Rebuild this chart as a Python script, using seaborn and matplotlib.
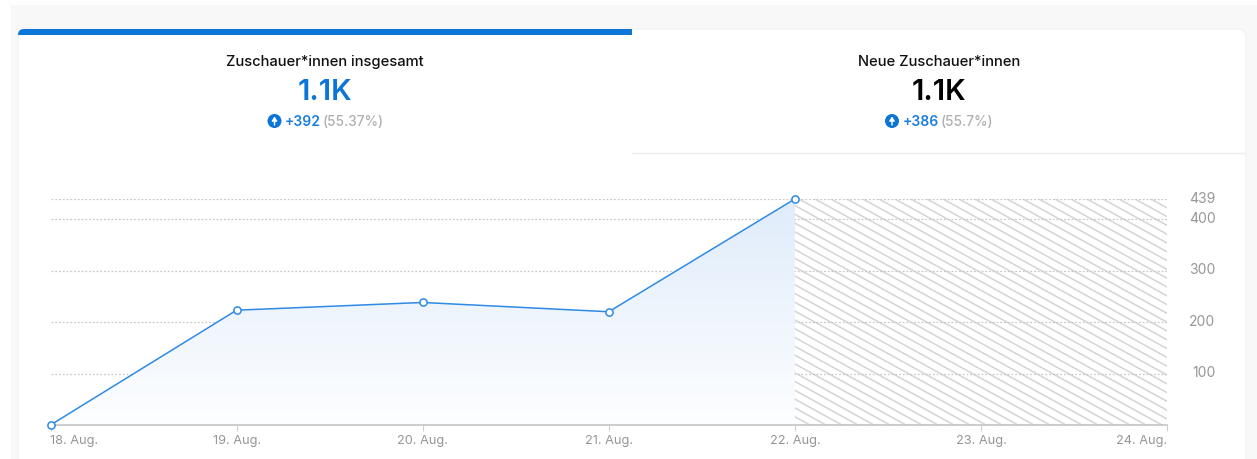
import numpy as np
import pandas as pd
import matplotlib
matplotlib.use("Agg")
import matplotlib.pyplot as plt
from matplotlib.patches import FancyBboxPatch, Rectangle, Circle, Polygon
from matplotlib.transforms import ScaledTranslation
import seaborn as sns

days = ["18. Aug.", "19. Aug.", "20. Aug.", "21. Aug.", "22. Aug.", "23. Aug.", "24. Aug."]
viewers = [0, 223, 238, 220, 439]
y_ticks = [100, 200, 300, 400, 439]
tab_titles = ["Zuschauer*innen insgesamt", "Neue Zuschauer*innen"]
tab_values = ["1.1K", "1.1K"]
tab_deltas = ["+392", "+386"]
tab_pcts = ["(55.37%)", "(55.7%)"]

sns.set_theme(style="white")
plt.rcParams["font.family"] = ["Inter", "DejaVu Sans"]

W, H = 1257, 459
BLUE = "#0b76d8"
LINE = "#2f8ae6"
GREY = "#969696"

fig = plt.figure(figsize=(W / 100, H / 100), dpi=100, facecolor="white")

# page furniture, in pixel coordinates
bg = fig.add_axes([0, 0, 1, 1], zorder=0)
bg.set_xlim(0, W)
bg.set_ylim(H, 0)
bg.axis("off")
bg.add_patch(Rectangle((11, 5), W - 11, H, fc="#f8f8f8", ec="none"))
bg.add_patch(FancyBboxPatch((18, 29), 1228, 460, boxstyle="round,pad=0,rounding_size=9",
                            fc="white", ec="#f1f1f1", lw=0.8))
bar = FancyBboxPatch((18, 29), 640, 30, boxstyle="round,pad=0,rounding_size=6", fc=BLUE, ec="none")
bg.add_patch(bar)
bar.set_clip_path(Rectangle((18, 29), 614, 5.5, transform=bg.transData))
bg.plot([632, 1245], [153, 153], color="#ececec", lw=1)

def tab(cx, title, value, vcolor, delta, pct, icon_x, delta_x, pct_x):
    bg.text(cx, 62.2, title, ha="center", va="center", fontsize=10.6, color="#111111", fontweight="medium")
    bg.text(cx, 92, value, ha="center", va="center", fontsize=21, color=vcolor, fontweight="semibold")
    bg.add_patch(Circle((icon_x, 121), 7, fc=BLUE, ec="none"))
    bg.annotate("", xy=(icon_x, 116.5), xytext=(icon_x, 125),
                arrowprops=dict(arrowstyle="-|>,head_width=0.13,head_length=0.2", color="white", lw=1,
                                shrinkA=0, shrinkB=0))
    bg.text(delta_x, 121.5, delta, ha="left", va="center", fontsize=10, color="#1a7fe0", fontweight="semibold")
    bg.text(pct_x, 121.5, pct, ha="left", va="center", fontsize=9.8, color="#b0b0b0", fontweight="medium")

tab(325, tab_titles[0], tab_values[0], BLUE, tab_deltas[0], tab_pcts[0], 274.5, 285, 323)
tab(939, tab_titles[1], tab_values[1], "#000000", tab_deltas[1], tab_pcts[1], 892, 903, 941)

# plot
ax = fig.add_axes([50.5 / W, (H - 425) / H, 1116.5 / W, 226 / H], zorder=1)
ax.patch.set_alpha(0)
x = np.arange(len(viewers))
df = pd.DataFrame({"day": x, "viewers": viewers})

ax.set_xlim(0, len(days) - 1)
ax.set_ylim(0, 439)

for t in y_ticks:
    ax.axhline(t, color="#c9c9c9", lw=0.9, ls=(0, (1.5, 1.5)), zorder=1)

grad = np.linspace(0, 1, 256).reshape(-1, 1)
cmap = matplotlib.colors.LinearSegmentedColormap.from_list("g", ["#dfecfa", "#fdfeff"])
im = ax.imshow(grad, extent=[0, x[-1], 0, max(viewers)], origin="upper", aspect="auto", cmap=cmap, zorder=1.5)
poly = Polygon(list(zip(x, viewers)) + [(x[-1], 0), (0, 0)], closed=True, transform=ax.transData, fc="none", ec="none")
ax.add_patch(poly)
im.set_clip_path(poly)
ax.set_xlim(0, len(days) - 1)
ax.set_ylim(0, 439)

# hatched "no data yet" zone
x0_px, x1_px = 794, 1167
for off in np.arange(199 - 0.55 * (x1_px - x0_px), 425, 8.8):
    ln, = bg.plot([x0_px, x1_px], [off, off + 0.55 * (x1_px - x0_px)], color="#d4d4d4", lw=1.1, zorder=2)
    ln.set_clip_path(Rectangle((x0_px, 199), x1_px - x0_px, 226, transform=bg.transData))

sns.lineplot(data=df, x="day", y="viewers", ax=ax, color=LINE, lw=1.1, marker="o", markersize=5.2,
             markerfacecolor="white", markeredgecolor=LINE, markeredgewidth=1.1, clip_on=False, zorder=3)

ax.set_xlabel("")
ax.set_ylabel("")
for s in ["top", "left", "right"]:
    ax.spines[s].set_visible(False)
ax.spines["bottom"].set_color("#c4c4c4")
ax.spines["bottom"].set_linewidth(1.2)

ax.set_xticks(range(len(days)))
ax.set_xticklabels(days)
ax.tick_params(axis="x", bottom=True, length=4, width=0.8, color="#d0d0d0", labelsize=9.2, labelcolor=GREY, pad=3)
labels = ax.get_xticklabels()
labels[0].set_ha("left")
labels[-1].set_ha("right")

ax.yaxis.tick_right()
ax.set_yticks(y_ticks)
ax.set_yticklabels([str(t) for t in y_ticks])
ax.tick_params(axis="y", right=False, left=False, labelsize=10, labelcolor=GREY, pad=29)
for lab in ax.get_yticklabels():
    lab.set_ha("right")
    lab.set_transform(lab.get_transform() + ScaledTranslation(0, 1.2 / 72, fig.dpi_scale_trans))

fig.savefig("out.png", dpi=100)
